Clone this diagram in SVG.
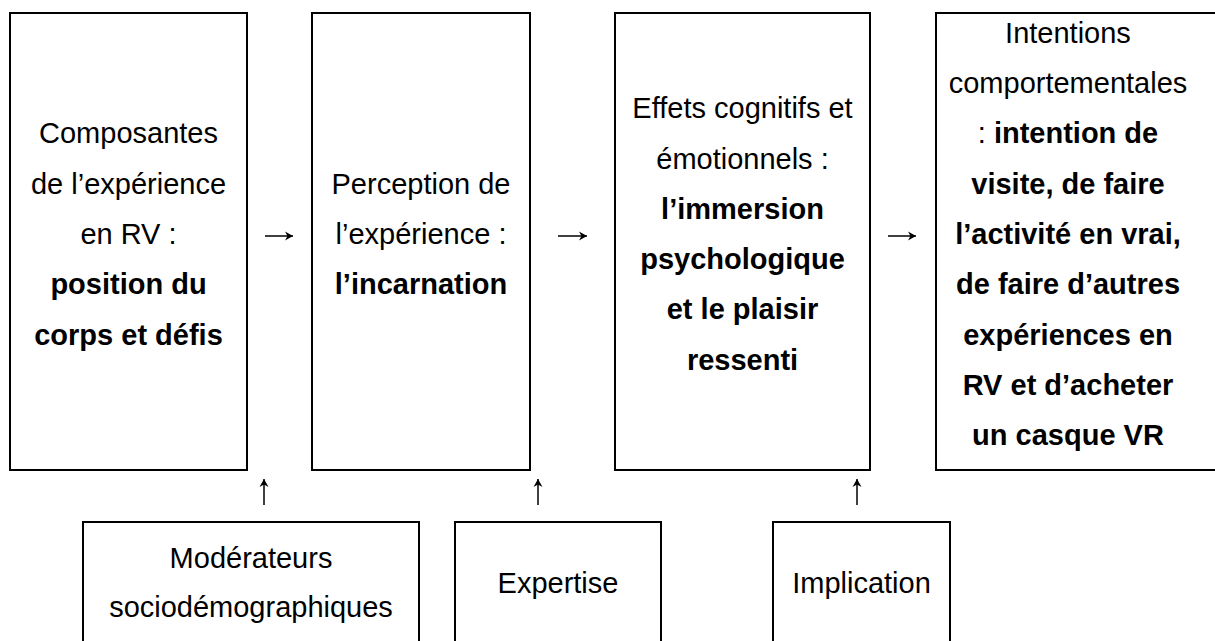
<svg xmlns="http://www.w3.org/2000/svg" width="1215" height="641" viewBox="0 0 1215 641">
<defs>
<marker id="ah" markerUnits="userSpaceOnUse" markerWidth="12" markerHeight="12" viewBox="-10 -6 12 12" refX="0" refY="0" orient="auto">
<path d="M0,0 L-8,-4.5 L-5.5,0 L-8,4.5 Z" fill="#000"/>
</marker>
</defs>
<style>
.box{fill:#fff;stroke:#000;stroke-width:2}
text{font-family:"Liberation Sans",Arial,sans-serif;font-size:29px;fill:#000;text-anchor:middle}
.b{font-weight:bold}
.edge{fill:none;stroke:#000;stroke-width:1.5;marker-end:url(#ah)}
</style>
<rect width="1215" height="641" fill="#fff"/>
<g id="n1">
<rect class="box" x="10" y="13" width="237" height="457"/>
<text x="128.5" y="143.4">Composantes</text>
<text x="128.5" y="193.7">de l’expérience</text>
<text x="128.5" y="244">en RV :</text>
<text class="b" x="128.5" y="294.3">position du</text>
<text class="b" x="128.5" y="344.6">corps et défis</text>
</g>
<g id="n2">
<rect class="box" x="312" y="13" width="218" height="457"/>
<text x="421" y="193.7">Perception de</text>
<text x="421" y="244">l’expérience :</text>
<text class="b" x="421" y="294.3">l’incarnation</text>
</g>
<g id="n3">
<rect class="box" x="615" y="13" width="255" height="457"/>
<text x="742.5" y="118.2">Effets cognitifs et</text>
<text x="742.5" y="168.5">émotionnels :</text>
<text class="b" x="742.5" y="218.8">l’immersion</text>
<text class="b" x="742.5" y="269.1">psychologique</text>
<text class="b" x="742.5" y="319.4">et le plaisir</text>
<text class="b" x="742.5" y="369.7">ressenti</text>
</g>
<g id="n4">
<rect class="box" x="936" y="13" width="290" height="457"/>
<text x="1068" y="42.8">Intentions</text>
<text x="1068" y="93.1">comportementales</text>
<text x="1068" y="143.4">: <tspan class="b">intention de</tspan></text>
<text class="b" x="1068" y="193.7">visite, de faire</text>
<text class="b" x="1068" y="244">l’activité en vrai,</text>
<text class="b" x="1068" y="294.3">de faire d’autres</text>
<text class="b" x="1068" y="344.6">expériences en</text>
<text class="b" x="1068" y="394.9">RV et d’acheter</text>
<text class="b" x="1068" y="445.2">un casque VR</text>
</g>
<g id="n5">
<rect class="box" x="83" y="522" width="336" height="150"/>
<text x="251" y="568">Modérateurs</text>
<text x="251" y="617">sociodémographiques</text>
</g>
<g id="n6">
<rect class="box" x="455" y="522" width="206" height="150"/>
<text x="558" y="593">Expertise</text>
</g>
<g id="n7">
<rect class="box" x="773" y="522" width="177" height="150"/>
<text x="861.5" y="593">Implication</text>
</g>
<g id="connectors">
<path class="edge" d="M265,236 H293"/>
<path class="edge" d="M558,236 H587"/>
<path class="edge" d="M888,236 H916"/>
<path class="edge" d="M264,505 V479"/>
<path class="edge" d="M538,505 V479"/>
<path class="edge" d="M857,505 V479"/>
</g>
</svg>
